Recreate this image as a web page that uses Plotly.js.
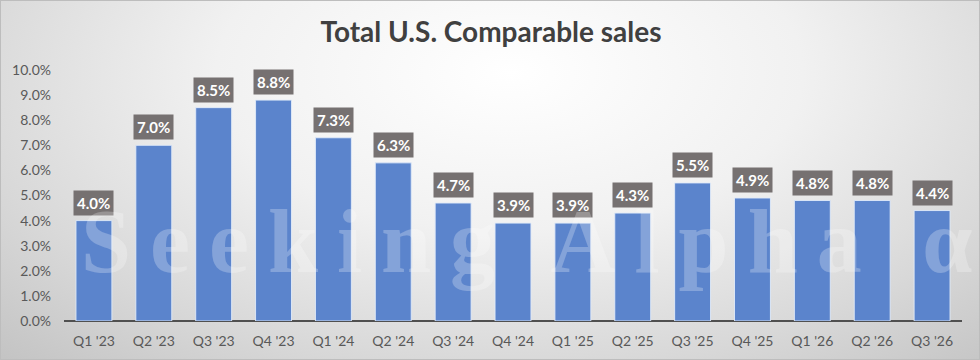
<!DOCTYPE html>
<html>
<head>
<meta charset="utf-8">
<script src="https://cdn.plot.ly/plotly-3.0.1.min.js"></script>
<style>
  html, body { margin: 0; padding: 0; }
  #wrap {
    position: relative; width: 980px; height: 360px; box-sizing: border-box;
    border: 1px solid #bdbdbd;
    background: radial-gradient(ellipse 75% 110% at 52% 20%, #ffffff 0%, #f1f1f1 40%, #d8d8d8 75%, #c4c4c4 100%);
    overflow: hidden;
  }
  #chart { position: absolute; left: 0; top: 0; width: 980px; height: 360px; }
  #wm {
    position: absolute; left: 80px; top: 196px; pointer-events: none;
    font-family: "Liberation Serif", "DejaVu Serif", serif; font-size: 90px; font-weight: bold;
    letter-spacing: 19px; color: rgba(255,255,255,0.25); white-space: nowrap; line-height: 1;
  }
</style>
</head>
<body>
<div id="wrap">
  <div id="chart"></div>
  <div id="wm">Seeking Alpha α</div>
</div>
<script>
const quarters = ["Q1 '23","Q2 '23","Q3 '23","Q4 '23","Q1 '24","Q2 '24","Q3 '24","Q4 '24","Q1 '25","Q2 '25","Q3 '25","Q4 '25","Q1 '26","Q2 '26","Q3 '26"];
const compSales = [4.0, 7.0, 8.5, 8.8, 7.3, 6.3, 4.7, 3.9, 3.9, 4.3, 5.5, 4.9, 4.8, 4.8, 4.4];
const yTickVals = [0,1,2,3,4,5,6,7,8,9,10];
const yTickText = yTickVals.map(v => v.toFixed(1) + '%');
const chartTitle = 'Total U.S. Comparable sales';

const trace = {
  type: 'bar', x: quarters, y: compSales,
  marker: { color: '#5b84cc', line: { color: 'rgba(225,235,250,0.9)', width: 1 } },
  width: 0.6, hoverinfo: 'skip'
};

const annotations = quarters.map((q, i) => ({
  x: q, y: compSales[i], xref: 'x', yref: 'y',
  text: '<b>' + compSales[i].toFixed(1) + '%</b>',
  showarrow: false, yanchor: 'bottom', yshift: 5,
  bgcolor: '#767171', borderpad: 3,
  font: { family: 'Lato, "Open Sans", sans-serif', size: 15, color: '#ffffff' }
}));

const layout = {
  width: 980, height: 360,
  paper_bgcolor: 'rgba(0,0,0,0)', plot_bgcolor: 'rgba(0,0,0,0)',
  margin: { l: 63, r: 19, t: 69, b: 40 },
  title: { text: '<b>' + chartTitle + '</b>', x: 0.5, xanchor: 'center', y: 0.913, yanchor: 'middle',
           font: { family: 'Lato, "Open Sans", sans-serif', size: 28, color: '#404040' } },
  showlegend: false,
  bargap: 0.4,
  xaxis: {
    type: 'category', showgrid: false, zeroline: false, showline: false, ticks: '',
    ticklabelstandoff: 10,
    tickfont: { family: 'Lato, "Open Sans", sans-serif', size: 14, color: '#595959' },
    automargin: false
  },
  yaxis: {
    range: [0, 10], tickvals: yTickVals, ticktext: yTickText,
    showgrid: false, zeroline: true, zerolinecolor: '#505050', zerolinewidth: 2,
    showline: false, ticks: '', ticklabelstandoff: 12,
    tickfont: { family: 'Lato, "Open Sans", sans-serif', size: 14, color: '#595959' },
    automargin: false
  },
  annotations: annotations
};

Plotly.newPlot('chart', [trace], layout, { displayModeBar: false, staticPlot: true });
</script>
</body>
</html>
